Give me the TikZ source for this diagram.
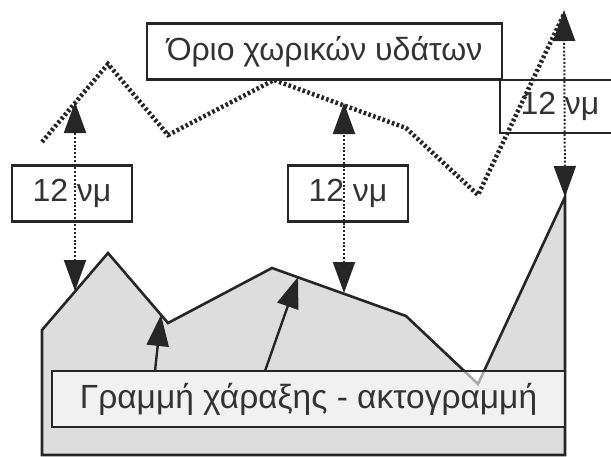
\documentclass[tikz,border=0pt]{standalone}
\usepackage{fontspec}
\setmainfont{Liberation Sans}
\usetikzlibrary{positioning, arrows.meta}
\definecolor{landgray}{RGB}{221,221,221}
\tikzset{
    lbl/.style={rectangle, draw=black!85, line width=2.2pt, minimum width=120pt, minimum height=56pt, inner sep=0pt, text=black!80, font=\fontsize{32}{32}\selectfont},
    wide/.style={lbl, minimum width=355pt},
    coast/.style={lbl, minimum width=513pt, fill=white, fill opacity=0.6, text opacity=1, font=\fontsize{33.5}{33.5}\selectfont},
    land/.style={draw=black!85, line width=2.6pt, fill=landgray, line join=miter},
    limit/.style={draw=black!85, line width=4.5pt, dash pattern=on 2.6pt off 2.4pt},
    dist/.style={{Triangle[width=22pt,length=31pt]}-{Triangle[width=22pt,length=31pt]}, line width=2pt, dash pattern=on 2pt off 1.8pt, black!85},
    ptr/.style={-{Triangle[width=22pt,length=31pt]}, line width=2.4pt, black!85},
}
\begin{document}
\begin{tikzpicture}[x=1pt, y=-1pt]
    \clip (0,0) rectangle (611,456);
    \coordinate (l0) at (42,455);
    \coordinate (l1) at (42,330);
    \coordinate (l2) at (108,253);
    \coordinate (l3) at (168,323);
    \coordinate (l4) at (272,268);
    \coordinate (l5) at (406,316);
    \coordinate (l6) at (478,384);
    \coordinate (l7) at (565,197);
    \coordinate (l8) at (565,455);
    \draw[land] (l0) -- (l1) -- (l2) -- (l3) -- (l4) -- (l5) -- (l6) -- (l7) -- (l8) -- cycle;
    \coordinate (b0) at (42,142);
    \coordinate (b1) at (108,64);
    \coordinate (b2) at (168,135);
    \coordinate (b3) at (274,80);
    \coordinate (b4) at (406,128);
    \coordinate (b5) at (478,195);
    \coordinate (b6) at (564,14);
    \draw[limit] (b0) -- (b1) -- (b2) -- (b3) -- (b4) -- (b5) -- (b6);
    \node [wide] (limtext) at (324.5,51.5) {Όριο χωρικών υδάτων};
    \node [lbl] (d1) at (72,193.5) {12 νμ};
    \node [lbl] (d2) at (348,193.5) {12 νμ};
    \node [lbl, minimum height=53pt] (d3) at (560,106.5) {12 νμ};
    \node [coast] (coasttext) at (308.5,399) {Γραμμή χάραξης - ακτογραμμή};
    \coordinate (s1) at (75,291);
    \coordinate (t1) at (75,102);
    \coordinate (s2) at (344,293);
    \coordinate (t2) at (344,103);
    \coordinate (s3) at (565,197);
    \coordinate (t3) at (564,10);
    \draw[dist] (s1) -- (t1);
    \draw[dist] (s2) -- (t2);
    \draw[dist] (s3) -- (t3);
    \coordinate (p1) at (155,371);
    \coordinate (q1) at (161,315);
    \coordinate (p2) at (265,371);
    \coordinate (q2) at (298,277);
    \draw[ptr] (p1) -- (q1);
    \draw[ptr] (p2) -- (q2);
\end{tikzpicture}
\end{document}
